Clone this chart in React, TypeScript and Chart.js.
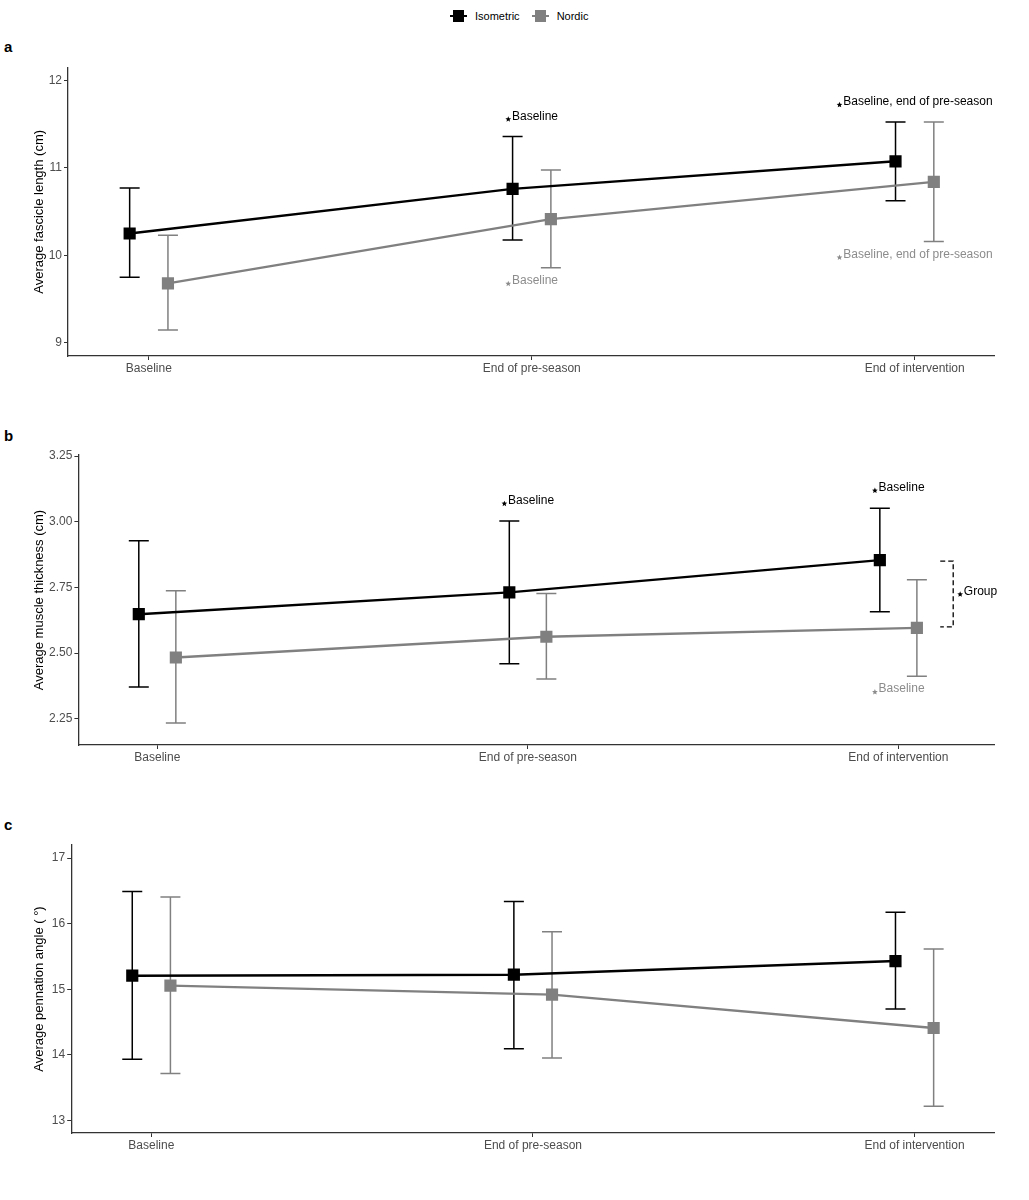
import { useEffect, useRef } from 'react'
import { Chart, registerables, type ChartConfiguration, type Plugin } from 'chart.js'

Chart.register(...registerables)

const FONT = '"Liberation Sans", Arial, sans-serif'
const ISO_COLOR = '#000000'
const NOR_COLOR = '#808080'
const NOTE_GRAY = '#8c8c8c'
const AXIS_COLOR = '#333333'
const TICK_TEXT = '#4d4d4d'

const CATEGORIES = ['Baseline', 'End of pre-season', 'End of intervention']
const GROUPS = ['Isometric', 'Nordic']

// a — fascicle length (cm)
const FASCICLE_TICKS = [9, 10, 11, 12]
const FASCICLE_ISO = [10.25, 10.76, 11.075]
const FASCICLE_ISO_LOW = [9.75, 10.175, 10.625]
const FASCICLE_ISO_HIGH = [10.77, 11.36, 11.525]
const FASCICLE_NOR = [9.68, 10.415, 10.84]
const FASCICLE_NOR_LOW = [9.146, 9.86, 10.16]
const FASCICLE_NOR_HIGH = [10.23, 10.976, 11.525]

// b — muscle thickness (cm)
const THICKNESS_TICKS = [2.25, 2.5, 2.75, 3.0, 3.25]
const THICKNESS_ISO = [2.648, 2.731, 2.854]
const THICKNESS_ISO_LOW = [2.371, 2.459, 2.657]
const THICKNESS_ISO_HIGH = [2.928, 3.003, 3.051]
const THICKNESS_NOR = [2.483, 2.562, 2.596]
const THICKNESS_NOR_LOW = [2.234, 2.401, 2.412]
const THICKNESS_NOR_HIGH = [2.737, 2.727, 2.779]

// c — pennation angle (deg)
const ANGLE_TICKS = [13, 14, 15, 16, 17]
const ANGLE_ISO = [15.208, 15.223, 15.431]
const ANGLE_ISO_LOW = [13.934, 14.096, 14.7]
const ANGLE_ISO_HIGH = [16.492, 16.34, 16.173]
const ANGLE_NOR = [15.056, 14.919, 14.411]
const ANGLE_NOR_LOW = [13.716, 13.954, 13.218]
const ANGLE_NOR_HIGH = [16.406, 15.878, 15.614]

// significance notes: category index, y value, text, group (0 iso / 1 nordic)
type Note = { cat: number; y: number; text: string; group: number }
const FASCICLE_NOTES: Note[] = [
  { cat: 1, y: 11.59, text: 'Baseline', group: 0 },
  { cat: 1, y: 9.71, text: 'Baseline', group: 1 },
  { cat: 2, y: 11.755, text: 'Baseline, end of pre-season', group: 0 },
  { cat: 2, y: 10.01, text: 'Baseline, end of pre-season', group: 1 },
]
const THICKNESS_NOTES: Note[] = [
  { cat: 1, y: 3.08, text: 'Baseline', group: 0 },
  { cat: 2, y: 3.13, text: 'Baseline', group: 0 },
  { cat: 2, y: 2.363, text: 'Baseline', group: 1 },
]
const THICKNESS_BRACKET = { x0: 3.113, x1: 3.148, yLow: 2.6, yHigh: 2.85, textX: 3.213, textY: 2.735, text: 'Group' }

const DODGE = 0.05

type Bracket = typeof THICKNESS_BRACKET
type PanelSpec = {
  letter: string
  letterTop: number
  title: string
  ticks: number[]
  decimals: number
  yMin: number
  yMax: number
  xMin: number
  xMax: number
  series: { mean: number[]; low: number[]; high: number[] }[]
  notes: Note[]
  bracket?: Bracket
  top: number
  height: number
  padTop: number
  axisW: number
  axisH: number
}

const PANELS: PanelSpec[] = [
  {
    letter: 'a', letterTop: 38, title: 'Average fascicle length (cm)',
    ticks: FASCICLE_TICKS, decimals: 0, yMin: 8.85, yMax: 12.145, xMin: 0.789, xMax: 3.209,
    series: [
      { mean: FASCICLE_ISO, low: FASCICLE_ISO_LOW, high: FASCICLE_ISO_HIGH },
      { mean: FASCICLE_NOR, low: FASCICLE_NOR_LOW, high: FASCICLE_NOR_HIGH },
    ],
    notes: FASCICLE_NOTES,
    top: 55, height: 340, padTop: 12.7, axisW: 68, axisH: 39,
  },
  {
    letter: 'b', letterTop: 427, title: 'Average muscle thickness (cm)',
    ticks: THICKNESS_TICKS, decimals: 2, yMin: 2.15, yMax: 3.254, xMin: 0.787, xMax: 3.26,
    series: [
      { mean: THICKNESS_ISO, low: THICKNESS_ISO_LOW, high: THICKNESS_ISO_HIGH },
      { mean: THICKNESS_NOR, low: THICKNESS_NOR_LOW, high: THICKNESS_NOR_HIGH },
    ],
    notes: THICKNESS_NOTES,
    bracket: THICKNESS_BRACKET,
    top: 445, height: 340, padTop: 10, axisW: 78.4, axisH: 40,
  },
  {
    letter: 'c', letterTop: 816, title: 'Average pennation angle ( °)',
    ticks: ANGLE_TICKS, decimals: 0, yMin: 12.81, yMax: 17.2, xMin: 0.79, xMax: 3.21,
    series: [
      { mean: ANGLE_ISO, low: ANGLE_ISO_LOW, high: ANGLE_ISO_HIGH },
      { mean: ANGLE_NOR, low: ANGLE_NOR_LOW, high: ANGLE_NOR_HIGH },
    ],
    notes: [],
    top: 835, height: 340, padTop: 10, axisW: 71.2, axisH: 42,
  },
]

const COLORS = [ISO_COLOR, NOR_COLOR]
const OFFSETS = [-DODGE, DODGE]

// small filled five-point star, drawn low like a subscript
function drawStar(ctx: CanvasRenderingContext2D, cx: number, cy: number, r: number) {
  ctx.beginPath()
  for (let k = 0; k < 10; k++) {
    const rad = k % 2 === 0 ? r : r * 0.45
    const a = -Math.PI / 2 + (k * Math.PI) / 5
    const px = cx + rad * Math.cos(a), py = cy + rad * Math.sin(a)
    if (k === 0) ctx.moveTo(px, py); else ctx.lineTo(px, py)
  }
  ctx.closePath()
  ctx.fill()
}

function drawNote(ctx: CanvasRenderingContext2D, cx: number, cy: number, text: string, color: string) {
  ctx.save()
  ctx.fillStyle = color
  ctx.font = `12px ${FONT}`
  const starW = 6.5
  const textW = ctx.measureText(text).width
  const start = cx - (starW + textW) / 2
  drawStar(ctx, start + 2.8, cy + 3, 3)
  ctx.textAlign = 'left'
  ctx.textBaseline = 'middle'
  ctx.fillText(text, start + starW, cy)
  ctx.restore()
}

function makePlugins(spec: PanelSpec): Plugin[] {
  const errorBars: Plugin = {
    id: 'errorBars',
    beforeDatasetsDraw(chart) {
      const { ctx, scales: { x, y } } = chart
      ctx.save()
      spec.series.forEach((s, g) => {
        ctx.strokeStyle = COLORS[g]
        ctx.lineWidth = 1.5
        s.mean.forEach((_, i) => {
          const px = x.getPixelForValue(i + 1 + OFFSETS[g])
          const top = y.getPixelForValue(s.high[i])
          const bot = y.getPixelForValue(s.low[i])
          ctx.beginPath()
          ctx.moveTo(px, top); ctx.lineTo(px, bot)
          ctx.moveTo(px - 10, top); ctx.lineTo(px + 10, top)
          ctx.moveTo(px - 10, bot); ctx.lineTo(px + 10, bot)
          ctx.stroke()
        })
      })
      ctx.restore()
    },
  }
  const notes: Plugin = {
    id: 'notes',
    afterDatasetsDraw(chart) {
      const { ctx, scales: { x, y } } = chart
      spec.notes.forEach(n => {
        drawNote(ctx, x.getPixelForValue(n.cat + 1), y.getPixelForValue(n.y), n.text,
          n.group === 0 ? ISO_COLOR : NOTE_GRAY)
      })
      const b = spec.bracket
      if (b) {
        const x0 = x.getPixelForValue(b.x0), x1 = x.getPixelForValue(b.x1)
        const yH = y.getPixelForValue(b.yHigh), yL = y.getPixelForValue(b.yLow)
        ctx.save()
        ctx.strokeStyle = '#000'
        ctx.lineWidth = 1.3
        ctx.setLineDash([5, 3])
        ctx.beginPath()
        ctx.moveTo(x0, yH); ctx.lineTo(x1, yH); ctx.lineTo(x1, yL); ctx.lineTo(x0, yL)
        ctx.stroke()
        ctx.restore()
        drawNote(ctx, x.getPixelForValue(b.textX), y.getPixelForValue(b.textY), b.text, '#000')
      }
    },
  }
  return [errorBars, notes]
}

function buildConfig(spec: PanelSpec): ChartConfiguration {
  const datasets = spec.series.map((s, g) => ({
    label: GROUPS[g],
    data: s.mean.map((m, i) => ({ x: i + 1 + OFFSETS[g], y: m })),
    borderColor: COLORS[g],
    backgroundColor: COLORS[g],
    borderWidth: 2.4,
    pointStyle: 'rect' as const,
    pointRadius: 8.6,
    pointBorderWidth: 0,
    pointBackgroundColor: COLORS[g],
    fill: false,
    tension: 0,
    order: g === 0 ? 0 : 1,
  }))

  return {
    type: 'line',
    data: { datasets },
    plugins: makePlugins(spec),
    options: {
      responsive: true,
      maintainAspectRatio: false,
      animation: false,
      events: [],
      layout: { padding: { top: spec.padTop, right: 1029 - 994.7, bottom: 0, left: 0 } },
      plugins: { legend: { display: false }, tooltip: { enabled: false } },
      scales: {
        x: {
          type: 'linear',
          min: spec.xMin,
          max: spec.xMax,
          afterBuildTicks: (scale: any) => { scale.ticks = CATEGORIES.map((_, i) => ({ value: i + 1 })) },
          afterFit: (scale: any) => { scale.height = spec.axisH },
          ticks: {
            autoSkip: false,
            maxRotation: 0,
            padding: 1,
            color: TICK_TEXT,
            font: { family: FONT, size: 12 },
            callback: (v: any) => CATEGORIES[Math.round(Number(v)) - 1] ?? '',
          },
          grid: { drawOnChartArea: false, drawTicks: true, tickLength: 4, color: AXIS_COLOR },
          border: { display: true, color: AXIS_COLOR, width: 1.3 },
        },
        y: {
          type: 'linear',
          min: spec.yMin,
          max: spec.yMax,
          afterBuildTicks: (scale: any) => { scale.ticks = spec.ticks.map(value => ({ value })) },
          afterFit: (scale: any) => { scale.width = spec.axisW },
          ticks: {
            padding: 2,
            color: TICK_TEXT,
            font: { family: FONT, size: 12 },
            callback: (v: any) => Number(v).toFixed(spec.decimals),
          },
          grid: { drawOnChartArea: false, drawTicks: true, tickLength: 4, color: AXIS_COLOR },
          border: { display: true, color: AXIS_COLOR, width: 1.3 },
          title: {
            display: true,
            text: spec.title,
            color: '#000',
            font: { family: FONT, size: 13 },
            padding: { top: 32, bottom: 0 },
          },
        },
      },
    },
  } as ChartConfiguration
}

function Panel({ spec }: { spec: PanelSpec }) {
  const canvasRef = useRef<HTMLCanvasElement>(null)
  useEffect(() => {
    if (!canvasRef.current) return
    const chart = new Chart(canvasRef.current, buildConfig(spec))
    return () => { chart.destroy() }
  }, [spec])

  return (
    <>
      <div style={{ position: 'absolute', left: 4, top: spec.letterTop, fontFamily: FONT, fontWeight: 'bold', fontSize: 15, lineHeight: '18px' }}>
        {spec.letter}
      </div>
      <div style={{ position: 'absolute', left: 0, top: spec.top, width: 1029, height: spec.height }}>
        <canvas ref={canvasRef} />
      </div>
    </>
  )
}

function LegendKey({ color }: { color: string }) {
  return (
    <span style={{ position: 'relative', display: 'inline-block', width: 17, height: 14, marginRight: 8 }}>
      <span style={{ position: 'absolute', left: 0, top: 6, width: 17, height: 2, background: color }} />
      <span style={{ position: 'absolute', left: 3, top: 1, width: 11, height: 12, background: color }} />
    </span>
  )
}

export default function App() {
  return (
    <div style={{ position: 'absolute', left: 0, top: 0, width: 1029, height: 1200, background: '#fff', fontFamily: FONT }}>
      <div style={{ position: 'absolute', left: 450, top: 9, display: 'flex', alignItems: 'center', fontSize: 11, color: '#000' }}>
        {GROUPS.map((g, i) => (
          <span key={g} style={{ display: 'inline-flex', alignItems: 'center', marginRight: i === 0 ? 12 : 0 }}>
            <LegendKey color={COLORS[i]} />
            {g}
          </span>
        ))}
      </div>
      {PANELS.map(p => <Panel key={p.letter} spec={p} />)}
    </div>
  )
}
